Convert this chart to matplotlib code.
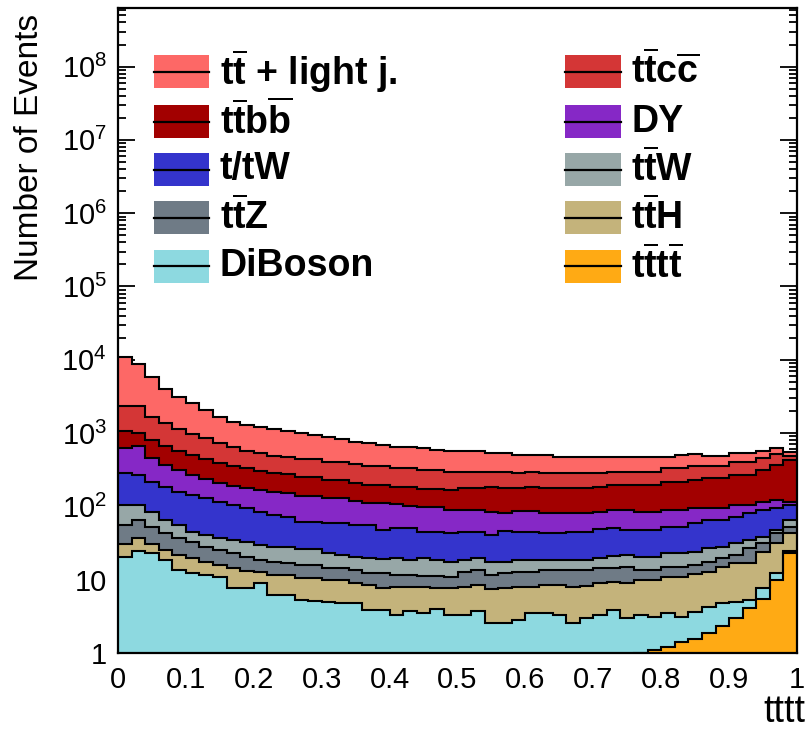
import numpy as np
import matplotlib
matplotlib.use("Agg")
import matplotlib.pyplot as plt
from matplotlib.patches import Rectangle
from matplotlib.lines import Line2D
from matplotlib.ticker import LogLocator, MultipleLocator, NullFormatter

plt.rcParams['font.family'] = ['Liberation Sans', 'DejaVu Sans']
plt.rcParams['mathtext.fontset'] = 'custom'
plt.rcParams['mathtext.rm'] = 'Liberation Sans'
plt.rcParams['mathtext.it'] = 'Liberation Sans:italic'
plt.rcParams['mathtext.bf'] = 'Liberation Sans:bold'

# ---------------- data (stacked histogram, 50 bins on [0, 1]) ----------------
n_bins = 50
x_min, x_max = 0.0, 1.0

# cumulative stack tops, read bin by bin (bottom layer first)
top_tttt = [0.02, 0.02, 0.02, 0.02, 0.02, 0.03, 0.03, 0.03, 0.03, 0.04,
            0.04, 0.04, 0.05, 0.05, 0.05, 0.06, 0.06, 0.07, 0.07, 0.08,
            0.09, 0.10, 0.11, 0.12, 0.13, 0.15, 0.17, 0.19, 0.21, 0.24,
            0.27, 0.30, 0.35, 0.40, 0.45, 0.55, 0.65, 0.80, 1.0, 1.1,
            1.2, 1.4, 1.55, 1.86, 2.3, 3.0, 4.1, 5.5, 10.0, 23.0]
top_diboson = [20.4, 24.6, 23.1, 18.6, 13.6, 12.3, 11.6, 10.9, 7.7, 7.7,
               9.0, 6.2, 6.2, 5.3, 5.1, 5.0, 4.8, 4.8, 3.9, 3.9,
               3.3, 3.7, 3.5, 4.0, 3.3, 3.3, 3.7, 2.57, 2.57, 2.8,
               3.5, 3.5, 3.3, 2.57, 3.0, 3.3, 3.9, 3.0, 3.3, 3.1,
               3.5, 3.1, 3.6, 4.2, 4.8, 5.0, 5.3, 7.7, 12.3, 24.5]
top_ttH = [30.7, 37.0, 30.7, 25.4, 21.7, 19.8, 17.4, 15.9, 14.4, 13.1,
           12.7, 11.6, 11.6, 10.5, 10.5, 9.9, 9.9, 9.0, 8.5, 7.7,
           7.9, 7.9, 7.9, 7.7, 7.7, 7.9, 8.5, 7.5, 7.7, 7.9,
           7.9, 8.5, 8.5, 7.9, 8.2, 9.0, 9.3, 9.0, 9.9, 9.9,
           10.9, 10.9, 12.0, 12.7, 14.9, 16.9, 16.9, 23.9, 31.7, 43.0]
top_ttZ = [56.0, 65.0, 52.0, 43.0, 37.0, 32.7, 27.9, 25.4, 23.1, 20.4,
           18.6, 17.4, 16.9, 15.9, 15.9, 14.4, 14.4, 13.6, 12.3, 12.3,
           11.6, 11.6, 11.2, 11.2, 10.9, 12.7, 13.6, 11.6, 12.3, 12.7,
           12.7, 13.6, 13.6, 13.6, 13.6, 14.4, 14.4, 14.9, 13.6, 13.6,
           14.9, 14.9, 15.9, 17.4, 19.8, 21.7, 27.1, 31.7, 43.0, 52.0]
top_ttW = [104, 104, 84, 65, 56, 45, 41, 37, 34.8, 32.7,
           29.7, 27.9, 27.9, 26.2, 26.2, 23.1, 21.7, 20.4, 19.8, 19.2,
           19.8, 18.6, 19.8, 18.6, 17.4, 18.6, 19.8, 17.4, 17.4, 18.6,
           18.6, 18.6, 18.6, 18.6, 18.6, 19.8, 21.1, 21.7, 20.4, 20.4,
           23.1, 23.1, 23.9, 27.1, 27.9, 31.7, 34.8, 38.3, 48.0, 65.0]
top_tW = [286, 268, 215, 184, 157, 143, 130, 115, 104, 95,
          84, 76, 72, 61, 61, 59, 59, 56, 56, 48,
          51, 51, 45, 45, 43, 45, 45, 41, 46, 45,
          45, 43, 43, 45, 45, 49, 51, 48, 48, 48,
          52, 52, 59, 65, 65, 72, 81, 89, 95, 104]
top_DY = [620, 667, 457, 367, 314, 268, 237, 209, 190, 178,
          167, 157, 152, 139, 139, 130, 130, 119, 111, 111,
          108, 101, 98, 98, 89, 89, 89, 84, 81, 86,
          86, 81, 81, 81, 81, 84, 89, 89, 84, 84,
          89, 89, 95, 95, 95, 104, 104, 115, 122, 115]
top_ttbb = [1070, 1000, 805, 667, 570, 502, 443, 391, 356, 334,
            304, 286, 277, 252, 252, 229, 229, 209, 196, 196,
            184, 184, 173, 173, 167, 178, 178, 184, 178, 178,
            184, 178, 178, 178, 178, 184, 196, 196, 196, 196,
            215, 215, 229, 244, 244, 268, 268, 314, 367, 430]
top_ttcc = [2340, 2340, 1660, 1370, 1140, 972, 857, 733, 646, 570,
            535, 487, 472, 443, 443, 403, 403, 379, 356, 356,
            334, 334, 314, 314, 295, 295, 295, 295, 295, 286,
            295, 286, 286, 286, 286, 286, 295, 295, 295, 295,
            334, 334, 356, 356, 356, 403, 403, 457, 519, 487]
top_ttlight = [11000, 8770, 5830, 4000, 3110, 2570, 2070, 1660, 1420, 1290,
               1210, 1140, 1070, 1000, 942, 885, 830, 756, 733, 688,
               646, 646, 626, 588, 570, 570, 570, 535, 535, 502,
               502, 502, 472, 472, 472, 472, 472, 472, 472, 472,
               472, 502, 519, 487, 487, 535, 535, 570, 626, 552]

process_labels = [r'$\mathbf{t\overline{t}t\overline{t}}$',
                  'DiBoson',
                  r'$\mathbf{t\overline{t}H}$',
                  r'$\mathbf{t\overline{t}Z}$',
                  r'$\mathbf{t\overline{t}W}$',
                  't/tW',
                  'DY',
                  r'$\mathbf{t\overline{t}b\overline{b}}$',
                  r'$\mathbf{t\overline{t}c\overline{c}}$',
                  r'$\mathbf{t\overline{t}}$ + light j.']
process_colors = ['#ffaa14', '#8dd9e0', '#c4b37b', '#6f7b86', '#97a7a7',
                  '#3434cc', '#8628c6', '#a20000', '#d43636', '#fd6866']
stack_tops = [top_tttt, top_diboson, top_ttH, top_ttZ, top_ttW,
              top_tW, top_DY, top_ttbb, top_ttcc, top_ttlight]

x_ticks = [0, 0.1, 0.2, 0.3, 0.4, 0.5, 0.6, 0.7, 0.8, 0.9, 1.0]
x_tick_labels = ['0', '0.1', '0.2', '0.3', '0.4', '0.5', '0.6', '0.7', '0.8', '0.9', '1']
y_ticks = [1, 10, 1e2, 1e3, 1e4, 1e5, 1e6, 1e7, 1e8]
y_tick_labels = ['1', '10', r'$10^{2}$', r'$10^{3}$', r'$10^{4}$',
                 r'$10^{5}$', r'$10^{6}$', r'$10^{7}$', r'$10^{8}$']
y_range = (1, 6.3e8)

# legend layout: (column, row) of each process
legend_order = [(0, 0, 9), (1, 0, 8), (0, 1, 7), (1, 1, 6), (0, 2, 5),
                (1, 2, 4), (0, 3, 3), (1, 3, 2), (0, 4, 1), (1, 4, 0)]

# ---------------- figure ----------------
W, H = 807, 730
fig = plt.figure(figsize=(W / 100, H / 100), dpi=100)
ax = fig.add_axes([118 / W, 1 - 653 / H, (797 - 118) / W, (653 - 8) / H])

edges = np.linspace(x_min, x_max, n_bins + 1)
prev = np.full(n_bins, 1e-3)
for tops, col in zip(stack_tops, process_colors):
    t = np.asarray(tops, dtype=float)
    ax.stairs(t, edges, baseline=prev, fill=True, facecolor=col,
              edgecolor='none', zorder=2)
    prev = t
for tops in stack_tops:
    ax.stairs(np.asarray(tops, dtype=float), edges, baseline=None,
              color='black', lw=1.5, zorder=3)

ax.set_yscale('log')
ax.set_xlim(x_min, x_max)
ax.set_ylim(*y_range)

ax.set_xticks(x_ticks)
ax.set_xticklabels(x_tick_labels, fontsize=21)
ax.xaxis.set_minor_locator(MultipleLocator(0.02))
ax.set_yticks(y_ticks)
ax.set_yticklabels(y_tick_labels, fontsize=21)
ax.yaxis.set_minor_locator(LogLocator(base=10, subs=np.arange(2, 10), numticks=100))
ax.yaxis.set_minor_formatter(NullFormatter())

ax.tick_params(axis='x', which='major', direction='in', length=13, width=1.3,
               bottom=True, top=False, pad=9)
ax.tick_params(axis='x', which='minor', direction='in', length=7, width=1.3,
               bottom=True, top=False)
ax.tick_params(axis='y', which='major', direction='in', length=12, width=1.3,
               left=True, right=True, pad=8)
ax.tick_params(axis='y', which='minor', direction='in', length=6, width=1.3,
               left=True, right=True)
for sp in ax.spines.values():
    sp.set_linewidth(1.6)
    sp.set_zorder(5)

fig.text(30 / W, 1 - 14 / H, 'Number of Events', rotation=90, ha='center',
         va='top', fontsize=24)
fig.text(805 / W, 1 - 712 / H, 'tttt', ha='right', va='center', fontsize=27)

# ---------------- legend (drawn in figure pixels) ----------------
row_y = [71.7, 121.7, 169.5, 217.5, 266.0]
box_x = [153.5, 565.0]
text_x = [219.5, 631.0]
box_w, box_h = 55.5, 33.0
for col, row, idx in legend_order:
    yc = row_y[row]
    fig.patches.append(Rectangle((box_x[col] / W, 1 - (yc + box_h / 2) / H),
                                 box_w / W, box_h / H, transform=fig.transFigure,
                                 facecolor=process_colors[idx], edgecolor='none'))
    fig.lines.append(Line2D([box_x[col] / W, (box_x[col] + box_w) / W],
                            [1 - yc / H, 1 - yc / H], transform=fig.transFigure,
                            color='black', lw=1.6))
    fig.text(text_x[col] / W, 1 - yc / H, process_labels[idx], ha='left',
             va='center', fontsize=27, fontweight='bold')

fig.savefig('out.png', dpi=100)
